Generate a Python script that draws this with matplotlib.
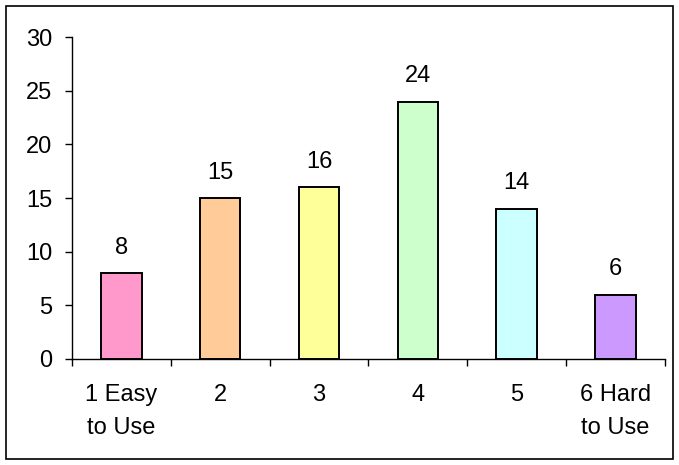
import numpy as np
import matplotlib.pyplot as plt
from matplotlib.patches import Rectangle

plt.rcParams['font.family'] = ['Liberation Sans', 'DejaVu Sans']

categories = ['1 Easy\nto Use', '2', '3', '4', '5', '6 Hard\nto Use']
counts = [8, 15, 16, 24, 14, 6]
colors = ['#FF99CC', '#FFCC99', '#FFFF99', '#CCFFCC', '#CCFFFF', '#CC99FF']

fig = plt.figure(figsize=(6.79, 4.65), dpi=100)
ax = fig.add_axes([0.106, 0.228, 0.873, 0.692])

x = np.arange(len(categories))
bars = ax.bar(x, counts, width=0.41, color=colors, edgecolor='black', linewidth=1.4)

for xi, v in zip(x, counts):
    ax.annotate(str(v), (xi, v), xytext=(0, 14), textcoords='offset points',
                ha='center', va='baseline', fontsize=17)

ax.set_xlim(-0.5, len(categories) - 0.5)
ax.set_ylim(0, 30)
ax.set_yticks(range(0, 31, 5))

# ticks on category boundaries, labels centred under bars
ax.set_xticks(np.arange(-0.5, len(categories), 1.0))
ax.set_xticklabels([])
ax.set_xticks(x, minor=True)
ax.set_xticklabels(categories, minor=True, linespacing=1.62)
ax.tick_params(axis='x', which='major', direction='out', length=5, width=1)
ax.tick_params(axis='x', which='minor', length=0, pad=18, labelsize=17)
ax.tick_params(axis='y', direction='out', length=5, width=1, pad=9, labelsize=17)

for s in ['top', 'right']:
    ax.spines[s].set_visible(False)
for s in ['left', 'bottom']:
    ax.spines[s].set_linewidth(1)

# outer chart border
fig.patches.append(Rectangle((6 / 679, 6 / 465), 667 / 679, 453 / 465,
                             transform=fig.transFigure, fill=False,
                             edgecolor='black', linewidth=1.2))

fig.savefig('out.png', dpi=100)
